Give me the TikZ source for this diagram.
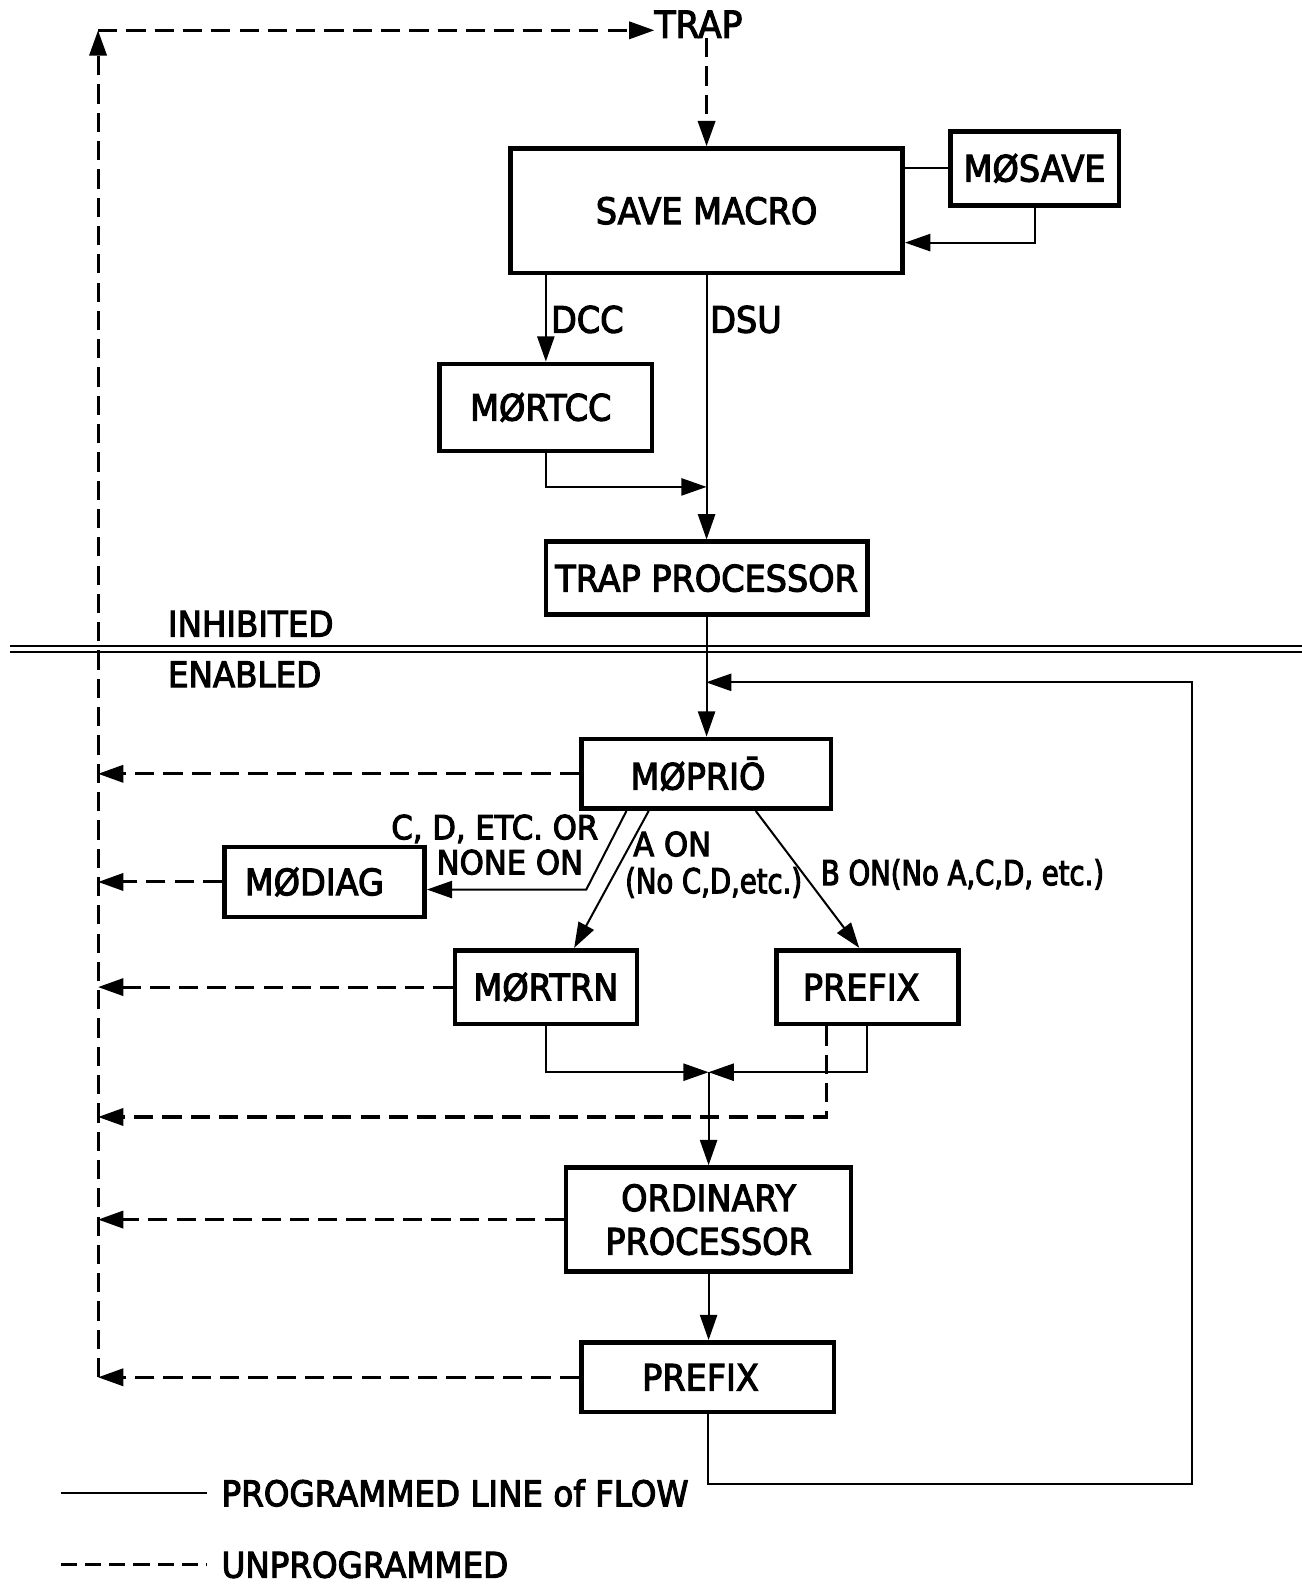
\documentclass[tikz,border=0pt]{standalone}
\usepackage{fontspec}
\setmainfont{DejaVu Sans}[FakeStretch=0.92,FakeBold=3]
\newfontfamily\narrowfont{DejaVu Sans}[FakeStretch=0.8,FakeBold=3]
\usetikzlibrary{arrows.meta,calc}

% type sizes
\newcommand\boxfont{\fontsize{36pt}{43pt}\selectfont}
\newcommand\trapfont{\fontsize{37pt}{43pt}\selectfont}
\newcommand\labfont{\fontsize{33pt}{40pt}\selectfont}
\newcommand\narrowlab{\narrowfont\fontsize{34pt}{40pt}\selectfont}
\newcommand\legfont{\fontsize{35pt}{40pt}\selectfont}

\tikzset{
  box/.style={draw, line width=4.6pt, inner sep=0pt, font=\boxfont, align=center},
  lbl/.style={inner sep=0pt, font=\boxfont},
  plain/.style={line width=2pt},
  flow/.style={line width=2pt, -{Triangle[length=25pt,width=17pt]}},
  unprog/.style={line width=3pt, dash pattern=on 19pt off 9pt,
                 -{Triangle[length=25pt,width=17pt]}},
  legdash/.style={line width=3pt, dash pattern=on 16pt off 8pt},
}

\begin{document}
\begin{tikzpicture}[x=1pt,y=-1pt]
\path[use as bounding box] (0,0) rectangle (1288,1568);

% blocks
\node[lbl,font=\trapfont] (trap) at (691,24) {TRAP};
\node[box,minimum width=388pt,minimum height=123pt] (savem) at (699,208.5) {SAVE MACRO};
\node[box,minimum width=167pt,minimum height=73pt] (mosave) at (1023.5,166.5) {MØSAVE};
\node[box,minimum width=210pt,minimum height=86pt] (mortcc) at (540,403) {MØRTCC\hspace{10pt}};
\node[box,minimum width=318pt,minimum height=72pt] (trapp) at (699,572) {TRAP PROCESSOR};
\node[box,minimum width=247pt,minimum height=69pt] (moprio) at (698.5,765.5) {MØPRIŌ\hspace{16pt}};
\node[box,minimum width=198pt,minimum height=69pt] (modiag) at (321,872.5) {MØDIAG\hspace{20pt}};
\node[box,minimum width=180pt,minimum height=73pt] (mortrn) at (540,976.5) {MØRTRN};
\node[box,minimum width=180pt,minimum height=73pt] (prefixa) at (858,976.5) {PREFIX\hspace{12pt}};
\node[box,minimum width=282pt,minimum height=103pt] (ordp) at (701,1206.5) {ORDINARY\\PROCESSOR};
\node[box,minimum width=250pt,minimum height=69pt] (prefixb) at (700,1362.5) {PREFIX\hspace{14pt}};

% labels
\node[lbl] (dcc) at (581,316) {DCC};
\node[lbl] (dsu) at (738,316) {DSU};
\node[lbl,font=\legfont,anchor=west] (inh) at (166,617) {INHIBITED};
\node[lbl,font=\legfont,anchor=west] (ena) at (166,667) {ENABLED};
\node[lbl,font=\labfont,anchor=east] (cd1) at (592,820) {C, D, ETC. OR};
\node[lbl,font=\labfont,anchor=east] (cd2) at (577,853) {NONE ON};
\node[lbl,font=\labfont] (aon1) at (665,835) {A ON};
\node[lbl,font=\narrowlab] (aon2) at (706,873) {(No C,D,etc.)};
\node[lbl,font=\narrowlab,anchor=west] (bon) at (812,865) {B ON(No A,C,D, etc.)};

% helper points
\coordinate (tl) at (97,30);
\coordinate (bl) at (prefixb.west -| tl);
\coordinate (pfd) at (97,1105);
\coordinate (mj) at ($(trapp.north)+(0,-52)$);
\coordinate (lp1) at (1179,1468);
\coordinate (lp2) at (1179,675);
\coordinate (dgb) at (580,880);
\coordinate (jn) at ($(ordp.north)+(0,-92)$);

% inhibited / enabled boundary
\draw[line width=1.8pt] (10,639) -- (1288,639);
\draw[line width=1.8pt] (10,645) -- (1288,645);

% unprogrammed paths
\draw[unprog] (bl) -- (tl);
\draw[unprog] (tl) -- (tl -| trap.west);
\draw[unprog] (trap.south -| savem.north) -- (savem.north);
\draw[unprog] (moprio.west) -- (moprio.west -| tl);
\draw[unprog] (modiag.west) -- (modiag.west -| tl);
\draw[unprog] (mortrn.west) -- (mortrn.west -| tl);
\draw[unprog] ([xshift=-40pt]prefixa.south) |- (pfd);
\draw[unprog] (ordp.west) -- (ordp.west -| tl);
\draw[unprog] (prefixb.west) -- (bl);

% programmed flow
\draw[plain] (mosave.west) -- (mosave.west -| savem.east);
\draw[flow] (mosave.south) |- ([yshift=-31.5pt]savem.east);
\draw[flow] (savem.south -| mortcc.north) -- (mortcc.north);
\draw[flow] (savem.south -| trapp.north) -- (trapp.north);
\draw[flow] (mortcc.south) |- (mj);
\draw[flow] (trapp.south) -- (trapp.south |- moprio.north);
\draw[flow] (prefixb.south) |- (lp1) -- (lp2) -- (lp2 -| moprio.north);
\draw[flow] ([xshift=47pt]moprio.south west) -- (dgb) -- (dgb -| modiag.east);
\draw[flow] ([xshift=69pt]moprio.south west) -- ([xshift=28pt]mortrn.north);
\draw[flow] ([xshift=175pt]moprio.south west) -- ([xshift=-8pt]prefixa.north);
\draw[flow] (mortrn.south) |- (jn);
\draw[flow] (prefixa.south) |- (jn);
\draw[flow] (jn) -- (ordp.north);
\draw[flow] (ordp.south) -- (ordp.south |- prefixb.north);

% key
\draw[plain] (60,1477) -- (205,1477);
\node[lbl,font=\legfont,anchor=west] (kp) at (219,1477) {PROGRAMMED LINE of FLOW};
\draw[legdash] (60,1548) -- (205,1548);
\node[lbl,font=\legfont,anchor=west] (ku) at (219,1548) {UNPROGRAMMED};
\end{tikzpicture}
\end{document}
